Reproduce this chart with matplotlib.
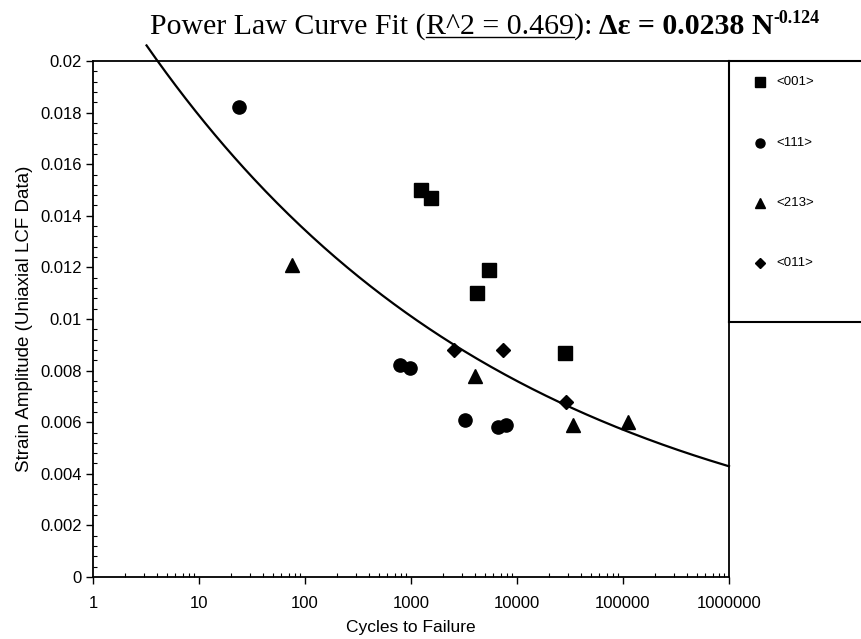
import numpy as np
import matplotlib
matplotlib.use("Agg")
import matplotlib.pyplot as plt
from matplotlib.lines import Line2D
from matplotlib.ticker import FixedLocator, FuncFormatter, MultipleLocator, LogLocator, NullFormatter

# data (cycles to failure, strain amplitude)
sq_cycles = [1251, 1530, 5470, 4220, 28400]
sq_strain = [0.0150, 0.0147, 0.0119, 0.0110, 0.0087]
circ_cycles = [24, 790, 980, 3230, 6650, 7800]
circ_strain = [0.0182, 0.0082, 0.0081, 0.0061, 0.0058, 0.0059]
tri_cycles = [76, 4010, 33800, 111000]
tri_strain = [0.0121, 0.0078, 0.0059, 0.0060]
dia_cycles = [2560, 7300, 29200]
dia_strain = [0.0088, 0.0088, 0.0068]

# power law fit from the title
fit_a = 0.0238
fit_b = -0.124
fit_start = 3.2
fit_end = 1e6

series_labels = ["<001>", "<111>", "<213>", "<011>"]
x_ticks = [1, 10, 100, 1000, 10000, 100000, 1000000]

W, H = 861, 639
fig = plt.figure(figsize=(W / 100, H / 100), dpi=100)
plt.rcParams["font.family"] = ["Liberation Sans", "DejaVu Sans"]

ax = fig.add_axes([93 / W, (H - 577) / H, (729 - 93) / W, (577 - 61) / H])

ax.plot(sq_cycles, sq_strain, "s", color="black", markersize=10.5, linestyle="none")
ax.plot(circ_cycles, circ_strain, "o", color="black", markersize=9.5, linestyle="none")
ax.plot(tri_cycles, tri_strain, "^", color="black", markersize=10, linestyle="none")
ax.plot(dia_cycles, dia_strain, "D", color="black", markersize=7, linestyle="none")

n = np.logspace(np.log10(fit_start), np.log10(fit_end), 300)
ax.plot(n, fit_a * n ** fit_b, color="black", lw=1.6, clip_on=False)

ax.set_xscale("log")
ax.set_xlim(1, 1e6)
ax.set_ylim(0, 0.02)
ax.xaxis.set_major_locator(FixedLocator(x_ticks))
ax.xaxis.set_major_formatter(FuncFormatter(lambda v, p: f"{int(round(v))}"))
ax.xaxis.set_minor_locator(LogLocator(base=10, subs=np.arange(2, 10), numticks=20))
ax.xaxis.set_minor_formatter(NullFormatter())
ax.yaxis.set_major_locator(MultipleLocator(0.002))
ax.yaxis.set_minor_locator(MultipleLocator(0.0004))
ax.yaxis.set_major_formatter(FuncFormatter(lambda v, p: "0" if abs(v) < 1e-12 else f"{v:g}"))

ax.tick_params(which="major", direction="out", length=5, width=1, labelsize=12, pad=3)
ax.tick_params(axis="x", which="major", pad=9)
ax.tick_params(which="minor", direction="in", length=3, width=0.8)
for s in ax.spines.values():
    s.set_linewidth(1.3)

ax.set_xlabel("Cycles to Failure", fontsize=12.5, labelpad=6)
ax.set_ylabel("Strain Amplitude (Uniaxial LCF Data)", fontsize=13.5, labelpad=5)

# legend box to the right of the plot
lax = fig.add_axes([729 / W, (H - 322) / H, (W - 729) / W + 0.01, (322 - 61) / H])
lax.set_xlim(0, 1)
lax.set_ylim(0, 1)
lax.set_xticks([])
lax.set_yticks([])
lax.spines["right"].set_visible(False)
for s in lax.spines.values():
    s.set_linewidth(1.5)
markers = [("s", 7), ("o", 6.5), ("^", 7), ("D", 5)]
row_y = [(322 - 82) / 261, (322 - 143) / 261, (322 - 203) / 261, (322 - 263) / 261]
for (m, ms), lab, yy in zip(markers, series_labels, row_y):
    lax.plot([0.22], [yy], m, color="black", markersize=ms)
    lax.text(0.34, yy, lab, fontsize=9.5, va="center", ha="left")

# title built from pieces: plain, underlined, bold, superscript
fig.canvas.draw()
renderer = fig.canvas.get_renderer()
serif = ["Liberation Serif", "DejaVu Serif"]
parts = [
    ("Power Law Curve Fit (", "normal", 21.5, 0, False, 0),
    ("R^2 = 0.469", "normal", 21.5, 0, True, 0),
    ("):", "normal", 21.5, 0, False, 7),
    ("Δε = 0.0238 N", "bold", 21.5, 0, False, 0),
    ("-0.124", "bold", 13, 11, False, 0),
]
texts = []
for s, wt, size, dy, ul, gap in parts:
    t = fig.text(0, 0, s, fontsize=size, fontweight=wt, family=serif, va="baseline", ha="left")
    texts.append(t)
widths = [t.get_window_extent(renderer).width for t in texts]
total = sum(widths) + sum(p[5] for p in parts)
x = 485 - total / 2
base = H - 34
for t, w, p in zip(texts, widths, parts):
    t.set_position((x / W, (base + p[3]) / H))
    if p[4]:
        fig.add_artist(Line2D([x / W, (x + w) / W], [(base - 3) / H] * 2,
                              transform=fig.transFigure, color="black", lw=1))
    x += w + p[5]

fig.savefig("out.png", dpi=100)
